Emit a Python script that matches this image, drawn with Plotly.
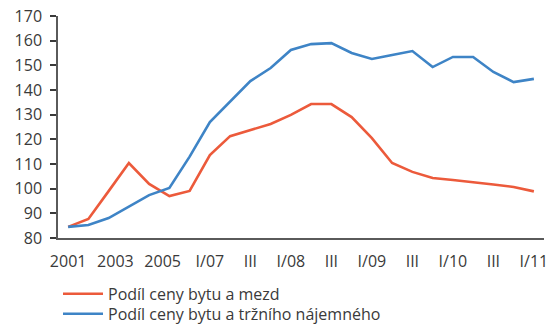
import plotly.graph_objects as go

# Periods: annual 2001-2006 (plus IV/06), then quarterly from I/07 to I/11
periods = ["2001", "2002", "2003", "2004", "2005", "2006", "IV/06",
           "I/07", "II/07", "III/07", "IV/07",
           "I/08", "II/08", "III/08", "IV/08",
           "I/09", "II/09", "III/09", "IV/09",
           "I/10", "II/10", "III/10", "IV/10",
           "I/11"]

# Ratio of flat price to wages
ratio_wages = [84.5, 87.7, 99.0, 110.4, 101.9, 97.0, 99.1,
               113.6, 121.3, 123.8, 126.2,
               129.9, 134.3, 134.3, 129.0,
               120.5, 110.4, 106.8, 104.3,
               103.5, 102.7, 101.7, 100.7,
               98.9]

# Ratio of flat price to market rent
ratio_rent = [84.5, 85.3, 88.1, 92.6, 97.4, 100.3, 113.0,
              127.0, 135.5, 143.6, 148.9,
              156.2, 158.6, 159.0, 155.0,
              152.6, 154.2, 155.8, 149.3,
              153.4, 153.4, 147.3, 143.2,
              144.5]

tick_labels = ["2001", "2003", "2005", "I/07", "III", "I/08", "III",
               "I/09", "III", "I/10", "III", "I/11"]

x_idx = list(range(len(periods)))
# the three annual labels share the span up to I/07, then every second quarter
first_q = periods.index("I/07")
tick_pos = [i * first_q / 3 for i in range(3)] + list(range(first_q, len(periods), 2))

font_family = "Open Sans, sans-serif"
text_color = "#3a3a3a"
font_size = 16

fig = go.Figure()
fig.add_trace(go.Scatter(
    x=x_idx, y=ratio_wages, mode="lines",
    name="Podíl ceny bytu a mezd",
    line=dict(color="#EC5A3B", width=2.6),
    customdata=periods,
    legend="legend",
))
fig.add_trace(go.Scatter(
    x=x_idx, y=ratio_rent, mode="lines",
    name="Podíl ceny bytu a tržního nájemného",
    line=dict(color="#3E84C6", width=2.6),
    customdata=periods,
    legend="legend2",
))

legend_style = dict(
    orientation="v", x=0.0, xanchor="left", yanchor="top",
    xref="paper", yref="paper",
    font=dict(size=font_size, color=text_color),
    itemwidth=40, bgcolor="rgba(0,0,0,0)",
)

fig.update_layout(
    width=548, height=325,
    margin=dict(l=58, r=4, t=16, b=87, autoexpand=False),
    paper_bgcolor="white", plot_bgcolor="white",
    font=dict(family=font_family, size=font_size, color=text_color),
    showlegend=True,
    legend=dict(legend_style, y=-0.175),
    legend2=dict(legend_style, y=-0.265),
)

fig.update_xaxes(
    range=[-0.5, len(periods) - 0.5],
    tickmode="array", tickvals=tick_pos, ticktext=tick_labels,
    showgrid=False, zeroline=False,
    showline=True, linecolor="#5a5a5a", linewidth=1.5,
    ticks="", ticklabelstandoff=8, ticklabeloverflow="allow",
    tickfont=dict(size=font_size, color=text_color),
)
fig.update_yaxes(
    range=[80, 170], dtick=10,
    showgrid=False, zeroline=False,
    showline=True, linecolor="#5a5a5a", linewidth=1.5,
    ticks="outside", ticklen=6, tickwidth=1.5, tickcolor="#3a3a3a",
    ticklabelstandoff=5,
    tickfont=dict(size=font_size, color=text_color),
)

fig.write_html("out.html")
